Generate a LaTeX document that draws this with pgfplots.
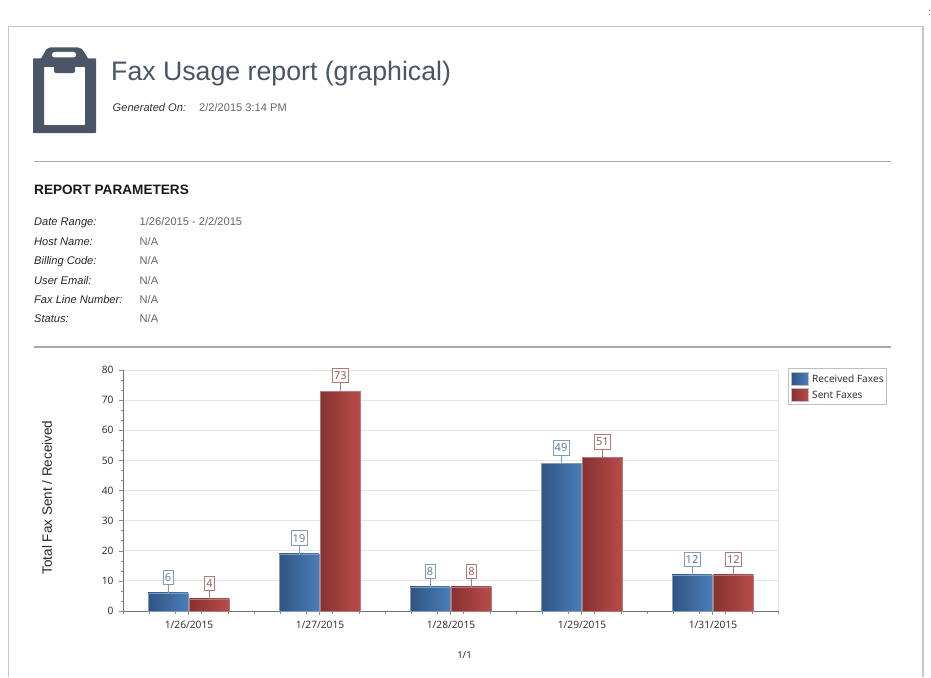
\documentclass[border=0pt]{standalone}
\usepackage{pgfplots}
\pgfplotsset{compat=1.18}
\usepackage{fontspec}
\setmainfont{Liberation Sans}
\newfontfamily\chartfont{Noto Sans}
\definecolor{slate}{HTML}{4A5568}
\definecolor{txt}{HTML}{666666}
\definecolor{rule}{HTML}{A8A8B0}
\definecolor{bluedark}{HTML}{2F5582}
\definecolor{bluelight}{HTML}{4A7DB8}
\definecolor{reddark}{HTML}{873230}
\definecolor{redlight}{HTML}{B84C4A}
\definecolor{blueedge}{HTML}{7F9DB9}
\definecolor{rededge}{HTML}{B07A7A}
\newcommand{\fs}[1]{\fontsize{#1pt}{#1pt}\selectfont}
\pgfplotsset{
  recv/.style={draw=blueedge,line width=0.5pt,left color=bluedark,right color=bluelight,bar shift=-20.5pt,
    every node near coord/.append style={draw=blueedge,text=blueedge!80!black},
    error bars/.cd,y dir=plus,y fixed=2.6,error mark=none,error bar style={draw=blueedge,line width=0.8pt}},
  sent/.style={draw=rededge,line width=0.5pt,left color=reddark,right color=redlight,bar shift=20.9pt,
    every node near coord/.append style={draw=rededge,text=rededge!80!black},
    error bars/.cd,y dir=plus,y fixed=2.6,error mark=none,error bar style={draw=rededge,line width=0.8pt}},
}
\begin{document}
\begin{tikzpicture}[x=1pt,y=-1pt]
\path[use as bounding box] (0,0) rectangle (931,677);
\fill[white] (0,0) rectangle (931,677);
% page frame
\draw[color=black!22,line width=1.2pt] (8.5,677) -- (8.5,26.5) -- (923,26.5) -- (923,677);
\node[anchor=center,text=black!70,font=\fs{9}] at (929.5,13) {:};
% clipboard icon
\fill[slate,even odd rule,rounded corners=0.6pt]
  (33,58.5) -- (41,58.5) -- (46,50) [rounded corners=2pt] -- (48,47.5) -- (80,47.5) -- (83,50) [rounded corners=0.6pt] -- (88,58.5) -- (96,58.5) -- (96,133) -- (33,133) -- cycle
  (44,67) rectangle (85,125);
\fill[white,rounded corners=2.5pt] (52,52) rectangle (76,57.5);
\fill[slate,rounded corners=2pt] (54,60) rectangle (75,73);
% header
\node[anchor=base west,text=slate,font=\fs{26.7},inner sep=0pt] at (111,80) {Fax Usage report (graphical)};
\node[anchor=base west,text=black!80,font=\fs{11.1}\itshape,inner sep=0pt] at (112.5,111) {Generated On:};
\node[anchor=base west,text=txt,font=\fs{11.1},inner sep=0pt] at (199,111) {2/2/2015 3:14 PM};
\draw[rule,line width=1.6pt] (34,161.5) -- (891,161.5);
\node[anchor=base west,text=black!90,font=\fs{13.6}\bfseries,inner sep=0pt] at (34,194) {REPORT PARAMETERS};
\foreach \l/\v/\y in {Date Range:/1\slash 26\slash 2015 - 2\slash 2\slash 2015/225.5,Host Name:/N\slash A/245,Billing Code:/N\slash A/264.5,User Email:/N\slash A/284,Fax Line Number:/N\slash A/303,Status:/N\slash A/322.5}{
  \node[anchor=base west,text=black!85,font=\fs{11.1}\itshape,inner sep=0pt] at (34,\y) {\l};
  \node[anchor=base west,text=txt,font=\fs{11.1},inner sep=0pt] at (139.5,\y) {\v};
}
\draw[rule,line width=1.6pt] (34,347) -- (891,347);
\node[anchor=base,text=black!85,font=\chartfont\fs{9.5},inner sep=0pt] at (464.5,658) {1/1};
\node[anchor=center,rotate=90,text=black!85,font=\fs{13.5},inner sep=0pt] at (47,497.5) {Total Fax Sent / Received};
\draw[black!12,line width=0.8pt] (123,370) -- (778,370) -- (778,611);
\begin{axis}[
  at={(123pt,-611pt)},anchor=south west,
  x=131pt,y=3.0125pt,
  scale only axis,
  xmin=-0.5,xmax=4.5,ymin=0,ymax=80,
  ybar,bar width=40pt,
  ytick={0,10,...,80},minor y tick num=2,
  xtick={0,1,2,3,4},
  xticklabels={1/26/2015,1/27/2015,1/28/2015,1/29/2015,1/31/2015},
  minor xtick={-0.5,-0.3,-0.1,0.1,0.3,0.5,0.7,0.9,1.1,1.3,1.5,1.7,1.9,2.1,2.3,2.5,2.7,2.9,3.1,3.3,3.5,3.7,3.9,4.1,4.3,4.5},
  axis lines=left,
  axis line style={draw=black!55,-,line width=0.7pt},
  tick align=outside,
  major tick length=4pt,minor tick length=2.5pt,
  tick style={draw=black!45,line width=0.5pt},
  ymajorgrids,major grid style={draw=black!10,line width=0.8pt},
  tick label style={font=\chartfont\fs{10.2},text=black!80,/pgf/number format/assume math mode=true},
  xticklabel style={yshift=-3pt,xshift=0.5pt},
  yticklabel style={xshift=-2pt},
  nodes near coords,
  nodes near coords style={anchor=south,yshift=8pt,font=\chartfont\fs{11},fill=white,inner xsep=1.8pt,inner ysep=0.6pt,minimum height=14.5pt,line width=0.8pt,/pgf/number format/assume math mode=true},
  clip=false,
]
\addplot[recv] coordinates {(0,6)};
\addplot[recv] coordinates {(1,19)};
\addplot[recv] coordinates {(2,8)};
\addplot[recv] coordinates {(3,49)};
\addplot[recv] coordinates {(4,12)};
\addplot[sent] coordinates {(0,4)};
\addplot[sent] coordinates {(1,73)};
\addplot[sent] coordinates {(2,8)};
\addplot[sent] coordinates {(3,51)};
\addplot[sent] coordinates {(4,12)};
\end{axis}
% legend
\draw[black!25,line width=0.7pt,fill=white] (788.5,368.5) rectangle (886,404.5);
\shade[left color=bluedark,right color=bluelight,draw=black!25] (791.5,372) rectangle (808,385);
\shade[left color=reddark,right color=redlight,draw=black!25] (791.5,388.5) rectangle (808,401.5);
\node[anchor=base west,text=black!80,font=\chartfont\fs{10.1},inner sep=0pt] at (812,382) {Received Faxes};
\node[anchor=base west,text=black!80,font=\chartfont\fs{10.1},inner sep=0pt] at (812,398.5) {Sent Faxes};
\end{tikzpicture}
\end{document}
